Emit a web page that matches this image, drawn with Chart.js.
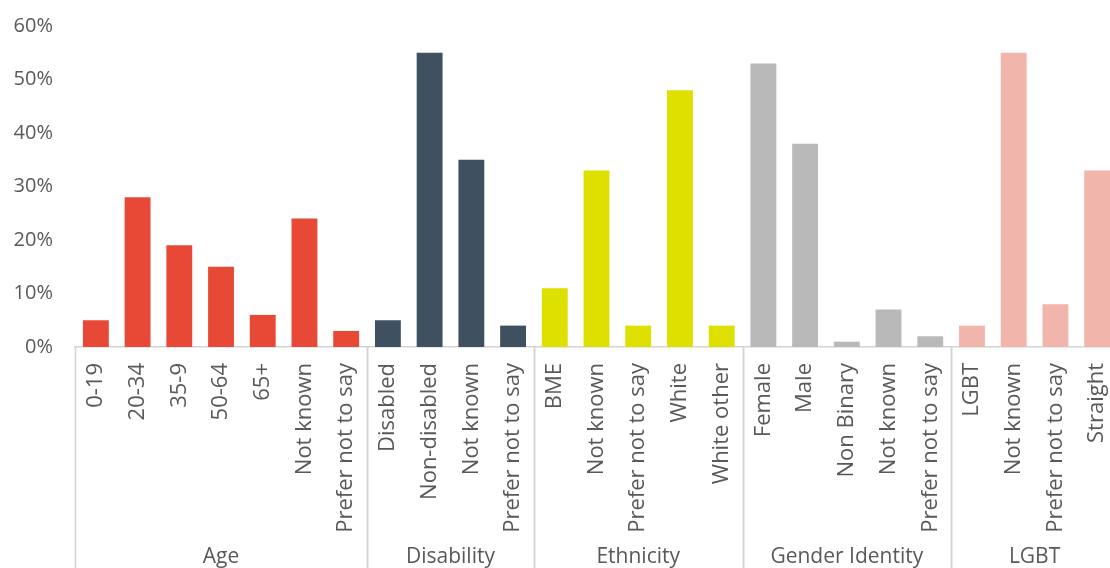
<!DOCTYPE html>
<html>
<head>
<meta charset="utf-8">
<script src="https://cdn.jsdelivr.net/npm/chart.js@4.4.1/dist/chart.umd.min.js"></script>
<style>
  html, body { margin: 0; padding: 0; background: #fff; overflow: hidden; }
  #canvas { display: block; }
</style>
</head>
<body>
<canvas id="canvas" width="1122" height="568"></canvas>
<script>
// survey breakdown, percent of respondents
var groupNames = ['Age', 'Disability', 'Ethnicity', 'Gender Identity', 'LGBT'];
var groupColors = ['#e84936', '#3f5060', '#dee000', '#b9b9b9', '#f2b5ac'];

var ageLabels = ['0-19', '20-34', '35-9', '50-64', '65+', 'Not known', 'Prefer not to say'];
var ageValues = [5, 28, 19, 15, 6, 24, 3];

var disabilityLabels = ['Disabled', 'Non-disabled', 'Not known', 'Prefer not to say'];
var disabilityValues = [5, 55, 35, 4];

var ethnicityLabels = ['BME', 'Not known', 'Prefer not to say', 'White', 'White other'];
var ethnicityValues = [11, 33, 4, 48, 4];

var genderLabels = ['Female', 'Male', 'Non Binary', 'Not known', 'Prefer not to say'];
var genderValues = [53, 38, 1, 7, 2];

var lgbtLabels = ['LGBT', 'Not known', 'Prefer not to say', 'Straight'];
var lgbtValues = [4, 55, 8, 33];

var yTicks = [0, 10, 20, 30, 40, 50, 60];

var allLabels = [ageLabels, disabilityLabels, ethnicityLabels, genderLabels, lgbtLabels];
var allValues = [ageValues, disabilityValues, ethnicityValues, genderValues, lgbtValues];

var labels = [], values = [], colors = [], groupSizes = [];
allLabels.forEach(function (grp, g) {
    groupSizes.push(grp.length);
    grp.forEach(function (l, i) {
        labels.push(l);
        values.push(allValues[g][i]);
        colors.push(groupColors[g]);
    });
});

var lineColor = '#d4d4d4';
var textColor = '#595959';
var fontFamily = "'Open Sans', sans-serif";

// vertical separators between groups + group names under the tick labels
var groupAxis = {
    id: 'groupAxis',
    afterDraw: function (chart) {
        var ctx = chart.ctx;
        var xs = chart.scales.x;
        var step = xs.getPixelForValue(1) - xs.getPixelForValue(0);
        var top = chart.chartArea.bottom;
        var bottom = chart.height;
        var start = 0;
        ctx.save();
        ctx.strokeStyle = lineColor;
        ctx.lineWidth = 1.5;
        ctx.fillStyle = textColor;
        ctx.font = '21px ' + fontFamily;
        ctx.textAlign = 'center';
        ctx.textBaseline = 'middle';
        groupSizes.forEach(function (n, g) {
            var x0 = xs.getPixelForValue(start) - step / 2;
            var x1 = xs.getPixelForValue(start + n - 1) + step / 2;
            ctx.beginPath();
            ctx.moveTo(Math.round(x0) + 0.5, top);
            ctx.lineTo(Math.round(x0) + 0.5, bottom);
            ctx.moveTo(Math.round(x1) + 0.5, top);
            ctx.lineTo(Math.round(x1) + 0.5, bottom);
            ctx.stroke();
            ctx.fillText(groupNames[g], (x0 + x1) / 2, 557);
            start += n;
        });
        ctx.restore();
    }
};

var config = {
    type: 'bar',
    data: {
        labels: labels,
        datasets: [{
            data: values,
            backgroundColor: colors,
            borderWidth: 0,
            barPercentage: 0.62,
            categoryPercentage: 1
        }]
    },
    options: {
        responsive: false,
        animation: false,
        layout: { padding: { top: 26, right: 4, left: 0, bottom: 0 } },
        plugins: {
            legend: { display: false },
            tooltip: { enabled: false }
        },
        scales: {
            x: {
                grid: { display: false, drawTicks: false },
                border: { display: true, color: lineColor, width: 1.5 },
                ticks: {
                    autoSkip: false,
                    minRotation: 90,
                    maxRotation: 90,
                    padding: 16,
                    color: textColor,
                    font: { family: fontFamily, size: 22 }
                },
                afterFit: function (scale) {
                    scale.height = 221;
                    scale.paddingLeft = 0;
                    scale.paddingRight = 0;
                }
            },
            y: {
                min: 0,
                max: 60,
                grid: { display: false, drawTicks: false },
                border: { display: false },
                afterBuildTicks: function (scale) {
                    scale.ticks = yTicks.map(function (v) { return { value: v }; });
                },
                ticks: {
                    padding: 22,
                    color: textColor,
                    font: { family: fontFamily, size: 20 },
                    callback: function (v) { return v + '%'; }
                },
                afterFit: function (scale) {
                    scale.width = 75;
                    scale.paddingTop = 0;
                    scale.paddingBottom = 0;
                }
            }
        }
    },
    plugins: [groupAxis]
};

window.onload = function () {
    var ctx = document.getElementById('canvas').getContext('2d');
    window.myBar = new Chart(ctx, config);
};
</script>
</body>
</html>
